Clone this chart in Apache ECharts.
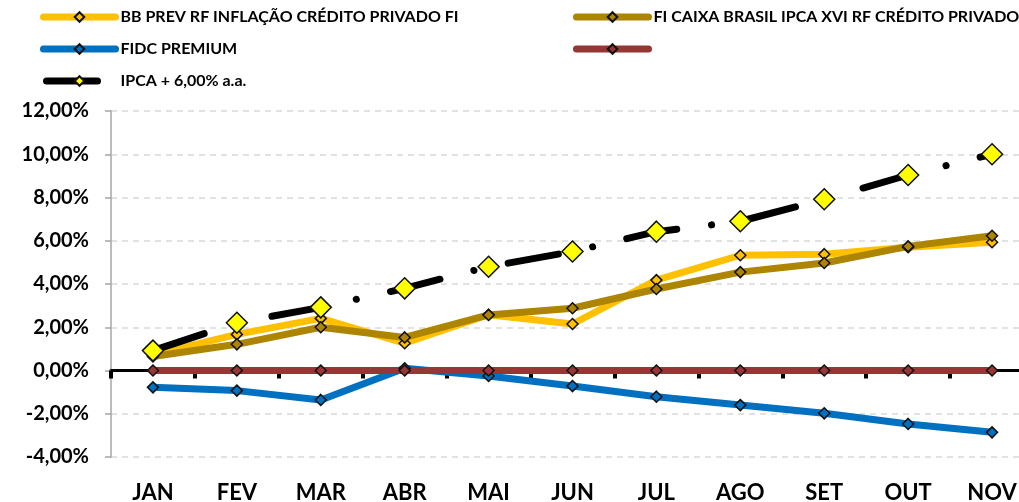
<!DOCTYPE html>
<html>
<head>
<meta charset="utf-8">
<script src="https://cdn.jsdelivr.net/npm/echarts@6/dist/echarts.min.js"></script>
<style>
  html, body { margin: 0; padding: 0; background: #fff; overflow: hidden; }
  /* a area do grafico passa um pouco da borda direita, como no original */
  #main { width: 1034px; height: 502px; }
</style>
</head>
<body>
<div id="main"></div>
<script>
// dados do grafico (% acumulado no ano)
const meses = ['JAN', 'FEV', 'MAR', 'ABR', 'MAI', 'JUN', 'JUL', 'AGO', 'SET', 'OUT', 'NOV'];

const nomeBB = 'BB PREV RF INFLAÇÃO CRÉDITO PRIVADO FI';
const nomeCaixa = 'FI CAIXA BRASIL IPCA XVI RF CRÉDITO PRIVADO';
const nomeFidc = 'FIDC PREMIUM';
const nomeVazio = ' ';
const nomeMeta = 'IPCA + 6,00% a.a.';

const bbPrev = [0.72, 1.67, 2.41, 1.26, 2.58, 2.15, 4.18, 5.33, 5.38, 5.70, 5.93];
const caixa = [0.65, 1.21, 2.00, 1.53, 2.57, 2.88, 3.77, 4.55, 4.97, 5.74, 6.23];
const fidc = [-0.78, -0.93, -1.36, 0.10, -0.25, -0.72, -1.21, -1.60, -1.98, -2.47, -2.86];
const vazio = [0, 0, 0, 0, 0, 0, 0, 0, 0, 0, 0];
const meta = [0.92, 2.21, 2.92, 3.80, 4.80, 5.50, 6.42, 6.90, 7.92, 9.04, 10.00];

const fonte = 'Lato, "Open Sans", sans-serif';

const chart = echarts.init(document.getElementById('main'));

function linha(nome, dados, cor, marcador, extra) {
    return Object.assign({
        name: nome,
        type: 'line',
        data: dados,
        symbol: 'diamond',
        symbolSize: 11,
        lineStyle: { color: cor, width: 7, cap: 'round', join: 'round' },
        itemStyle: { color: marcador, borderColor: '#111', borderWidth: 1.5 },
        emphasis: { disabled: true },
        animation: false
    }, extra || {});
}

const legendaBase = {
    orient: 'vertical',
    top: 9,
    padding: 0,
    itemWidth: 72,
    itemHeight: 12,
    itemGap: 16,
    textStyle: { fontFamily: fonte, fontWeight: 'bold', fontSize: 16, color: '#000' },
    lineStyle: { width: 7 }
};

const option = {
    backgroundColor: '#fff',
    animation: false,
    legend: [
        Object.assign({}, legendaBase, { left: 40, data: [nomeBB, nomeFidc, nomeMeta] }),
        Object.assign({}, legendaBase, { left: 573, data: [nomeCaixa, nomeVazio] })
    ],
    grid: { left: 111, right: 0, top: 111, bottom: 45, containLabel: false, outerBoundsMode: 'none' },
    xAxis: {
        type: 'category',
        data: meses,
        axisLine: { onZero: true, lineStyle: { color: '#000', width: 3 } },
        axisTick: { show: true, interval: 0, length: 8, lineStyle: { color: '#000', width: 4 } },
        // rotulos ficam la embaixo do grid
        axisLabel: { fontFamily: fonte, fontWeight: 'bold', fontSize: 22, color: '#000', margin: 25 },
        splitLine: { show: false }
    },
    yAxis: {
        type: 'value',
        min: -4,
        max: 12,
        interval: 2,
        axisLine: { show: true, lineStyle: { color: '#a6a6a6', width: 1.5 } },
        axisTick: { show: true, length: 6, lineStyle: { color: '#a6a6a6', width: 1.5 } },
        splitLine: { show: true, lineStyle: { color: '#d9d9d9', width: 1.5, type: [6, 5] } },
        axisLabel: {
            fontFamily: fonte, fontWeight: 'bold', fontSize: 20, color: '#000', margin: 22,
            formatter: v => v.toFixed(2).replace('.', ',') + '%'
        }
    },
    series: [
        linha(nomeBB, bbPrev, '#FFC000', '#FFC000'),
        linha(nomeCaixa, caixa, '#AE8500', '#AE8500'),
        linha(nomeFidc, fidc, '#0070C0', '#0070C0'),
        linha(nomeVazio, vazio, '#953735', '#953735'),
        linha(nomeMeta, meta, '#000', '#FFFF00', {
            symbolSize: 21,
            // traco longo + ponto
            lineStyle: { color: '#000', width: 7, cap: 'round', join: 'round', type: [51, 35, 0.1, 35], dashOffset: -3 }
        })
    ]
};

chart.setOption(option);
</script>
</body>
</html>
